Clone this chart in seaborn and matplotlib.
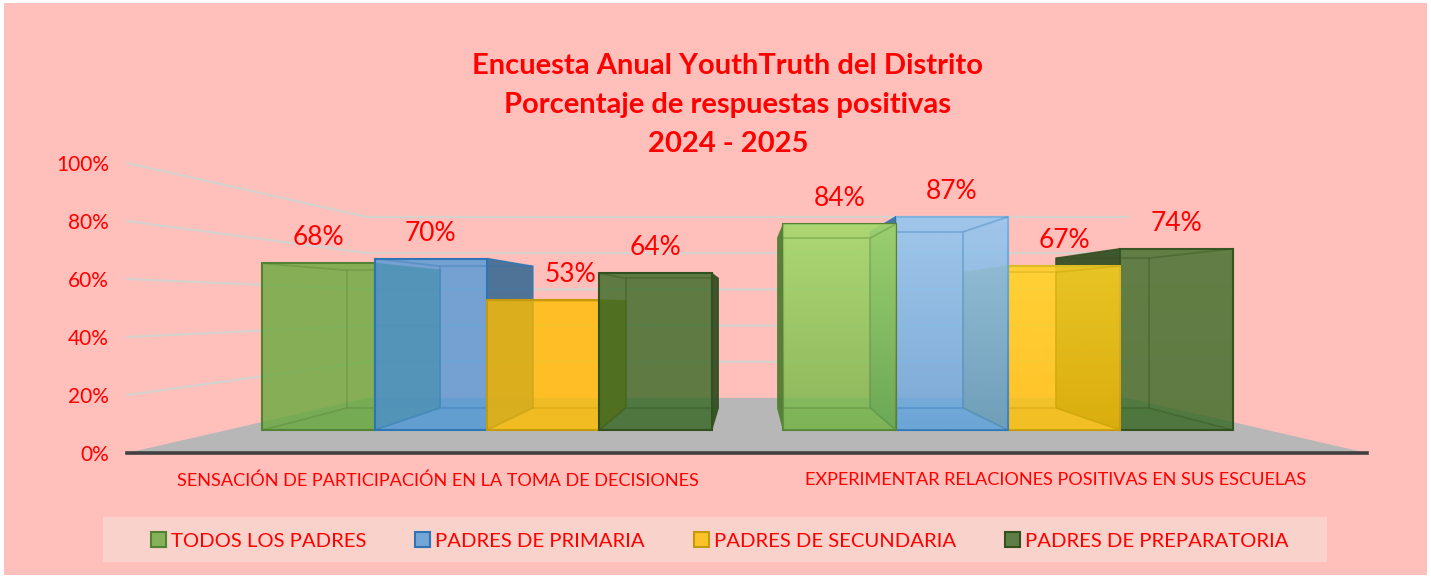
import matplotlib
matplotlib.use("Agg")
import numpy as np
import pandas as pd
import seaborn as sns
import matplotlib.pyplot as plt
from matplotlib.patches import Rectangle, Polygon
from matplotlib.colors import to_rgb

categories = ["SENSACIÓN DE PARTICIPACIÓN EN LA TOMA DE DECISIONES",
              "EXPERIMENTAR RELACIONES POSITIVAS EN SUS ESCUELAS"]
series_names = ["TODOS LOS PADRES", "PADRES DE PRIMARIA", "PADRES DE SECUNDARIA", "PADRES DE PREPARATORIA"]
todos = [68, 84]
primaria = [70, 87]
secundaria = [53, 67]
preparatoria = [64, 74]
yticks = [0, 20, 40, 60, 80, 100]
title = "Encuesta Anual YouthTruth del Distrito\nPorcentaje de respuestas positivas\n2024 - 2025"

colors = ["#68AA3D", "#519AD8", "#FFBE00", "#376924"]
edges = ["#548235", "#2E75B6", "#C49A0A", "#33501F"]
shine_colors = ["#D4FF90", "#C4E6FF", "#FFEE50", "#A0C080"]
shine = [0.50, 0.55, 0.40, 0.06]

RED = "#FF0000"
PINK = "#FFBFBA"
W, H = 1431, 577
ALPHA = 0.8
DEPTH, VP_X, VP_Y = 0.826, 0.505, 51.8

sns.set_theme(style="white")
plt.rcParams["font.family"] = ["Lato", "DejaVu Sans"]

df = pd.DataFrame({
    "categoria": categories * 4,
    "serie": [s for s in series_names for _ in categories],
    "valor": todos + primaria + secundaria + preparatoria,
})

fig = plt.figure(figsize=(W / 100, H / 100), dpi=100, facecolor="white")
fig.add_artist(Rectangle((4 / W, 1 - 575 / H), 1423 / W, 572 / H, transform=fig.transFigure,
                         fc=PINK, ec="none", zorder=-5))
fig.add_artist(Rectangle((103 / W, 1 - 562 / H), 1224 / W, 45 / H, transform=fig.transFigure,
                         fc="#F9D2CB", ec="none", zorder=-4))

ax = fig.add_axes([127 / W, 1 - 453 / H, 1240 / W, 290 / H])
ty = ax.twinx()
ax.set_zorder(2)
ty.set_zorder(1)
ax.patch.set_visible(False)
ty.patch.set_visible(False)

sns.barplot(data=df, x="categoria", y="valor", hue="serie", hue_order=series_names, order=categories,
            palette=colors, saturation=1, width=0.862, gap=0, dodge=True, alpha=ALPHA,
            linewidth=1.5, ax=ax)
ax.get_legend().remove()

xlim = (-0.691, 1.689)
ylim = (-9.388, 108.98)


def px(x):
    return VP_X + DEPTH * (x - VP_X)


def py(y):
    return VP_Y + DEPTH * (y - VP_Y)


for s, cont in enumerate(ax.containers):
    col = np.array(to_rgb(colors[s]))
    for g, bar in enumerate(cont):
        order = s if g == 0 else 3 - s
        z = 3 + order
        x0, x1 = bar.get_x(), bar.get_x() + bar.get_width()
        v = bar.get_height()
        X0, X1, Y0, Y1 = px(x0), px(x1), py(0), py(v)
        bar.set_edgecolor(edges[s])
        bar.set_alpha(None)
        bar.set_facecolor((*col, ALPHA))
        bar.set_zorder(z + 0.1)
        # outer side face, on the side facing away from the vanishing point
        sx, SX = (x1, X1) if g == 0 else (x0, X0)
        ax.add_patch(Polygon([(sx, 0), (sx, v), (SX, Y1), (SX, Y0)], closed=True,
                             fc=col * 0.68, ec=edges[s], lw=0.8, alpha=0.88, zorder=z))
        # floor of the box
        ax.add_patch(Polygon([(x0, 0), (x1, 0), (X1, Y0), (X0, Y0)], closed=True,
                             fc=col, ec="none", alpha=0.08, zorder=z + 0.12))
        # gradient on the brighter second group
        if g == 1:
            grad = np.ones((64, 1, 4))
            grad[..., :3] = to_rgb(shine_colors[s])
            grad[..., 3] = np.linspace(shine[s], shine[s] * 0.2, 64)[:, None]
            ax.imshow(grad, extent=(x0, x1, 0, v), origin="upper", aspect="auto",
                      zorder=z + 0.11, interpolation="bilinear")
        # inner edges of the box
        line = dict(color=edges[s], lw=1.3, alpha=0.35, zorder=z + 0.2, solid_capstyle="butt")
        ax.plot([X0, X1, X1, X0, X0], [Y0, Y0, Y1, Y1, Y0], **line)
        for a, b, c, d in [(x0, X0, 0, Y0), (x1, X1, 0, Y0), (x0, X0, v, Y1), (x1, X1, v, Y1)]:
            ax.plot([a, b], [c, d], **line)
        # value label
        nudge = 27 if (s == 2 and g == 0) else 0
        ax.annotate(f"{v:.0f}%", (bar.get_x() + bar.get_width() / 2, v),
                    xytext=(nudge * 0.72, 25.5 * 0.72), textcoords="offset points",
                    ha="center", va="center", color=RED, fontsize=19, zorder=30)

ax.set_xlim(xlim)
ax.set_ylim(ylim)
ax.set_yticks([])
ax.set_ylabel("")
ax.set_xlabel("")
ax.set_xticks([-0.094, 1.092], categories)
ax.tick_params(axis="x", length=0, pad=14, labelsize=13.05, labelcolor=RED)

# floor, walls and ticks share the tick scale of the twin axis
ty.set_ylim(0, 100)
wl, wr = -0.23, 1.23
back = lambda t: 19 + 0.624 * t
ty.add_patch(Polygon([(xlim[0], 0), (wl, back(0)), (wr, back(0)), (xlim[1], 0)], closed=True,
                     fc="#B7B7B7", ec="none", zorder=1))
for t in yticks[1:]:
    ty.plot([xlim[0], wl, wr], [t, back(t), back(t)], color="#D6D2CE", lw=1.6, zorder=0.5, clip_on=False)
ty.set_xlim(xlim)
ty.set_yticks(yticks, [f"{t}%" for t in yticks])
ty.yaxis.tick_left()
ty.tick_params(axis="y", length=0, pad=13, labelsize=15, labelcolor=RED)
ty.set_ylabel("")

for a in (ax, ty):
    for side, sp in a.spines.items():
        sp.set_visible(False)
ty.spines["bottom"].set_visible(True)
ty.spines["bottom"].set_color("#404040")
ty.spines["bottom"].set_linewidth(2.6)

fig.suptitle(title, x=728 / W, y=1 - 105 / H, va="center", ha="center",
             color=RED, fontsize=21, fontweight="bold", linespacing=1.6)

fs = 14.6
ax.legend(ax.containers, series_names, loc="center left",
          bbox_to_anchor=(151 / W, 1 - 541 / H), bbox_transform=fig.transFigure,
          frameon=False, ncol=4, fontsize=fs, labelcolor=RED, borderpad=0, borderaxespad=0,
          handlelength=15 / (fs * 100 / 72), handleheight=15 / (fs * 100 / 72),
          handletextpad=5 / (fs * 100 / 72), columnspacing=49 / (fs * 100 / 72))

fig.savefig("out.png", dpi=100, facecolor="white")
